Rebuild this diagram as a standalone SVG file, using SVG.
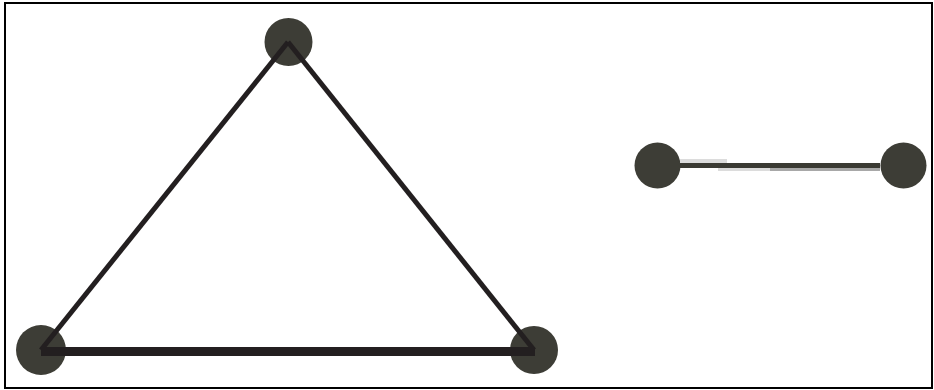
<svg xmlns="http://www.w3.org/2000/svg" width="934" height="390" viewBox="0 0 934 390">
<style>
.node{fill:#3d3d36}
.edge{stroke:#231f20;fill:none;stroke-linecap:butt}
</style>
<rect x="0" y="0" width="934" height="390" fill="#ffffff"/>
<rect x="5" y="3" width="927" height="385" fill="none" stroke="#000000" stroke-width="2"/>
<g id="node-top"><circle class="node" cx="288.5" cy="42" r="24"/></g>
<g id="node-bl"><circle class="node" cx="41" cy="350" r="25"/></g>
<g id="node-br"><circle class="node" cx="534" cy="350" r="24"/></g>
<g id="node-r1"><circle class="node" cx="657.5" cy="165.5" r="23"/></g>
<g id="node-r2"><circle class="node" cx="903.5" cy="165.5" r="23"/></g>
<g id="connectors">
<line class="edge" x1="41" y1="350" x2="288" y2="42" stroke-width="5"/>
<line class="edge" x1="288" y1="42" x2="534" y2="350" stroke-width="5"/>
<line class="edge" x1="41" y1="351.5" x2="535" y2="351.5" stroke-width="9"/>
<g id="edge-right">
<rect x="680" y="159" width="47" height="4" fill="#dcdcdc"/>
<rect x="718" y="168" width="52" height="3" fill="#dcdcdc"/>
<rect x="770" y="168" width="110" height="3" fill="#a8a8a8"/>
<rect x="680" y="163" width="200" height="5" fill="#3a3a33"/>
</g>
</g>
</svg>
